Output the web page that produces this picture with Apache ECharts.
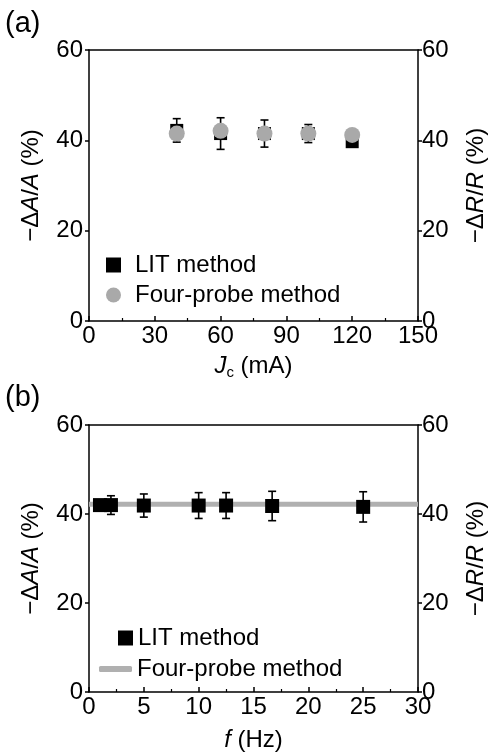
<!DOCTYPE html>
<html>
<head>
<meta charset="utf-8">
<script src="https://cdn.jsdelivr.net/npm/echarts@6/dist/echarts.min.js"></script>
<style>html,body{margin:0;padding:0;background:#fff;}#c{width:496px;height:753px;}</style>
</head>
<body>
<div id="c"></div>
<script>
// Panel (a): current dependence
const currentA = [40, 60, 80, 100, 120];
const litA = [42.2, 41.5, 41.5, 41.5, 39.7];
const litAErr = [2.6, 3.5, 3.0, 2.0, 1.0];
const fourProbeA = [41.5, 42.1, 41.5, 41.5, 41.2];
// Panel (b): frequency dependence
const freqB = [1, 2, 5, 10, 12.5, 16.7, 25];
const litB = [42.0, 42.0, 41.9, 41.9, 41.9, 41.8, 41.6];
const litBErr = [0.8, 2.1, 2.6, 2.9, 2.9, 3.3, 3.4];
const fourProbeBx = [0, 30];
const fourProbeBy = [42.2, 42.2];
// Tick settings
const yTicks = { min: 0, max: 60, interval: 20 };
const xTicksA = { min: 0, max: 150, interval: 30 };
const xTicksB = { min: 0, max: 30, interval: 5 };

const FONT = 'Liberation Sans, Arial, sans-serif';
const FS = 24;

const chart = echarts.init(document.getElementById('c'), null, { renderer: 'canvas' });

function errRender(params, api) {
  const x = api.value(0), y = api.value(1), e = api.value(2);
  const t = api.coord([x, y + e]);
  const b = api.coord([x, y - e]);
  const hw = 4;
  const st = { stroke: '#000', lineWidth: 1.6 };
  return {
    type: 'group',
    children: [
      { type: 'line', shape: { x1: t[0], y1: t[1], x2: b[0], y2: b[1] }, style: st },
      { type: 'line', shape: { x1: t[0] - hw, y1: t[1], x2: t[0] + hw, y2: t[1] }, style: st },
      { type: 'line', shape: { x1: b[0] - hw, y1: b[1], x2: b[0] + hw, y2: b[1] }, style: st }
    ]
  };
}

const richY = {
  n: { fontFamily: FONT, fontSize: FS, color: '#000' },
  i: { fontFamily: FONT, fontSize: FS, color: '#000', fontStyle: 'italic' }
};
const richX = {
  n: { fontFamily: FONT, fontSize: FS, color: '#000' },
  i: { fontFamily: FONT, fontSize: FS, color: '#000', fontStyle: 'italic' },
  sub: { fontFamily: FONT, fontSize: 15, color: '#000', padding: [12, 0, 0, 0] }
};

const axLine = { show: true, onZero: false, lineStyle: { color: '#000', width: 1.5 } };
const axLabel = { color: '#000', fontFamily: FONT, fontSize: FS };

function xAxisMain(gi, t, name, gap) {
  return {
    type: 'value', gridIndex: gi, position: 'bottom', min: t.min, max: t.max, interval: t.interval,
    axisLine: axLine,
    axisTick: { show: true, inside: true, length: 5, lineStyle: { color: '#000', width: 1.5 } },
    minorTick: { show: true, splitNumber: 2, length: 3, lineStyle: { color: '#000', width: 1.2 } },
    axisLabel: Object.assign({ margin: 3 }, axLabel),
    splitLine: { show: false },
    name: name, nameLocation: 'middle', nameGap: gap,
    nameTextStyle: { rich: richX }
  };
}
function xAxisTop(gi, t) {
  return {
    type: 'value', gridIndex: gi, position: 'top', min: t.min, max: t.max, interval: t.interval,
    axisLine: axLine, axisTick: { show: false }, axisLabel: { show: false }, splitLine: { show: false }
  };
}
function yAxis(gi, pos, name) {
  return {
    type: 'value', gridIndex: gi, position: pos, min: yTicks.min, max: yTicks.max, interval: yTicks.interval,
    axisLine: axLine,
    axisTick: { show: true, inside: false, length: 4, lineStyle: { color: '#000', width: 1.5 } },
    axisLabel: Object.assign({ margin: pos === 'left' ? 6 : 4 }, axLabel),
    splitLine: { show: false },
    name: name, nameLocation: 'middle', nameGap: 46, nameRotate: 90,
    nameTextStyle: { rich: richY }
  };
}

const option = {
  animation: false,
  backgroundColor: '#fff',
  title: [
    { text: '(a)', left: 5, top: 9, padding: 0, textStyle: { fontFamily: FONT, fontSize: 29, fontWeight: 'normal', color: '#000' } },
    { text: '(b)', left: 5, top: 383, padding: 0, textStyle: { fontFamily: FONT, fontSize: 29, fontWeight: 'normal', color: '#000' } }
  ],
  grid: [
    { left: 89, top: 50, width: 330, height: 271 },
    { left: 89, top: 425, width: 330, height: 269 }
  ],
  legend: [
    {
      left: 106, top: 253, orient: 'vertical', itemGap: 6, itemWidth: 15, itemHeight: 15, padding: 0,
      textStyle: { fontFamily: FONT, fontSize: FS, color: '#000', padding: [0, 0, 0, 9] },
      data: [
        { name: 'LIT method', icon: 'rect', itemStyle: { color: '#000', opacity: 1 } },
        { name: 'Four-probe method', icon: 'circle', itemStyle: { color: '#a9a9a9', opacity: 1 } }
      ]
    },
    {
      left: 118, top: 626, orient: 'vertical', itemWidth: 15, itemHeight: 15, padding: 0,
      textStyle: { fontFamily: FONT, fontSize: FS, color: '#000', padding: [0, 0, 0, 0] },
      data: [{ name: 'LIT method', icon: 'rect', itemStyle: { color: '#000', opacity: 1 } }]
    },
    {
      left: 99, top: 657, orient: 'vertical', itemWidth: 33, itemHeight: 6, padding: 0,
      textStyle: { fontFamily: FONT, fontSize: FS, color: '#000', padding: [0, 0, 0, 0] },
      data: [{ name: 'Four-probe method', icon: 'roundRect', itemStyle: { color: '#b0b0b0', opacity: 1 } }]
    }
  ],
  xAxis: [
    xAxisMain(0, xTicksA, '{i|J}{sub|c}{n| (mA)}', 32),
    xAxisTop(0, xTicksA),
    xAxisMain(1, xTicksB, '{i|f}{n| (Hz)}', 36),
    xAxisTop(1, xTicksB)
  ],
  yAxis: [
    yAxis(0, 'left', '{n|−Δ}{i|A}{n|/}{i|A}{n| (%)}'),
    yAxis(0, 'right', '{n|−Δ}{i|R}{n|/}{i|R}{n| (%)}'),
    yAxis(1, 'left', '{n|−Δ}{i|A}{n|/}{i|A}{n| (%)}'),
    yAxis(1, 'right', '{n|−Δ}{i|R}{n|/}{i|R}{n| (%)}')
  ],
  series: [
    {
      name: 'errA', type: 'custom', xAxisIndex: 0, yAxisIndex: 0, renderItem: errRender, z: 3,
      encode: { x: 0, y: 1 },
      data: currentA.map((x, i) => [x, litA[i], litAErr[i]])
    },
    {
      name: 'LIT method', type: 'scatter', xAxisIndex: 0, yAxisIndex: 0, symbol: 'rect', symbolSize: 13, z: 4,
      itemStyle: { color: '#000', opacity: 1 },
      data: currentA.map((x, i) => [x, litA[i]])
    },
    {
      name: 'Four-probe method', type: 'scatter', xAxisIndex: 0, yAxisIndex: 0, symbol: 'circle', symbolSize: 16, z: 5,
      itemStyle: { color: '#a9a9a9', opacity: 1 },
      data: currentA.map((x, i) => [x, fourProbeA[i]])
    },
    {
      name: 'Four-probe method', type: 'line', xAxisIndex: 2, yAxisIndex: 2, showSymbol: false, z: 2,
      lineStyle: { color: '#b0b0b0', width: 5 },
      data: fourProbeBx.map((x, i) => [x, fourProbeBy[i]])
    },
    {
      name: 'errB', type: 'custom', xAxisIndex: 2, yAxisIndex: 2, renderItem: errRender, z: 3,
      encode: { x: 0, y: 1 },
      data: freqB.map((x, i) => [x, litB[i], litBErr[i]])
    },
    {
      name: 'LIT method', type: 'scatter', xAxisIndex: 2, yAxisIndex: 2, symbol: 'rect', symbolSize: 14, z: 4,
      itemStyle: { color: '#000', opacity: 1 },
      data: freqB.map((x, i) => [x, litB[i]])
    }
  ]
};
chart.setOption(option);
</script>
</body>
</html>
